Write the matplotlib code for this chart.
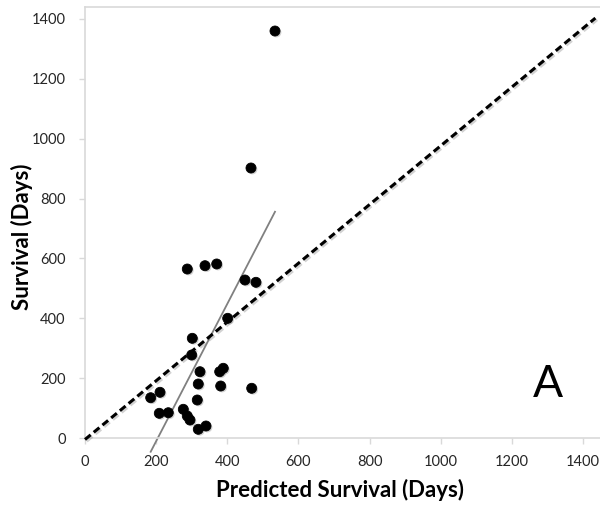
import numpy as np
import matplotlib
matplotlib.use("Agg")
import matplotlib.pyplot as plt
import matplotlib.patheffects as pe

# Predicted vs. observed survival (days)
predicted = [287.6, 337.4, 370.3, 449.8, 480.7, 401.2, 301.7, 300.0, 323.3,
             378.7, 388.8, 318.5, 381.5, 468.7, 210.9, 184.7, 315.7, 208.9,
             234.2, 276.4, 287.6, 295.2, 318.5, 340.2, 534.2, 466.7]
survival = [564.6, 575.7, 581.4, 527.9, 520.2, 399.9, 333.1, 277.3, 221.5,
            221.5, 232.9, 180.4, 173.7, 166.1, 152.7, 134.6, 127.0, 82.5,
            84.5, 95.9, 73.5, 60.1, 29.1, 40.1, 1359.8, 902.1]

# Reference (agreement) line
ref_x = [0, 1435]
ref_y = [-5, 1403]

tick_values = [0, 200, 400, 600, 800, 1000, 1200, 1400]
tick_labels = [str(v) for v in tick_values]

x = np.array(predicted)
y = np.array(survival)

fig = plt.figure(figsize=(6.0, 5.08), dpi=100)
ax = fig.add_axes([85 / 600, 1 - 438 / 508, 515 / 600, 431 / 508])
ax.set_xlim(0, 1448)
ax.set_ylim(0, 1440)

font = "Lato"

# dashed reference line with a soft shadow
ax.plot(ref_x, ref_y, color="black", lw=2.2, ls=(0, (2.4, 1.3)),
        solid_capstyle="butt", clip_on=False, zorder=3,
        path_effects=[pe.SimpleLineShadow(offset=(1.2, -1.2), shadow_color="gray", alpha=0.35),
                      pe.Normal()])

# least-squares trend line over the data range
slope, intercept = np.polyfit(x, y, 1)
tx = np.array([x.min(), x.max()])
ax.plot(tx, slope * tx + intercept, color="#808080", lw=1.3, clip_on=False, zorder=2)

# data points
ax.plot(x, y, ls="none", marker="o", ms=7.2, color="black", mec="black", mew=0.6,
        zorder=4, clip_on=False,
        path_effects=[pe.SimplePatchShadow(offset=(1, -1), shadow_rgbFace="gray", alpha=0.35),
                      pe.Normal()])

ax.set_xticks(tick_values)
ax.set_xticklabels(tick_labels)
ax.set_yticks(tick_values)
ax.set_yticklabels(tick_labels)
ax.tick_params(axis="both", length=4, width=1, color="#d9d9d9", labelsize=10.5,
               labelcolor="#262626")
ax.tick_params(axis="x", pad=8)
ax.tick_params(axis="y", pad=10)
for lbl in ax.get_xticklabels() + ax.get_yticklabels():
    lbl.set_fontfamily(font)

for side in ("left", "bottom", "top"):
    ax.spines[side].set_color("#d9d9d9")
    ax.spines[side].set_linewidth(1.2)
ax.spines["right"].set_visible(False)

ax.set_xlabel("Predicted Survival (Days)", fontsize=16, fontweight="bold", family=font)
ax.set_ylabel("Survival (Days)", fontsize=16, fontweight="bold", family=font)
ax.xaxis.set_label_coords((340 - 85) / 515, (438 - 490) / 431)
ax.yaxis.set_label_coords((22 - 85) / 515, (438 - 237) / 431)
ax.xaxis.label.set_va("center")
ax.yaxis.label.set_va("center")

ax.text(0.899, 0.123, "A", transform=ax.transAxes, fontsize=32, family=font,
        ha="center", va="center", color="black")

fig.savefig("out.png", dpi=100)
